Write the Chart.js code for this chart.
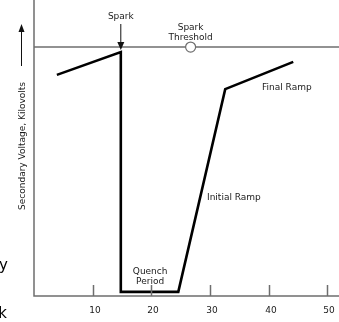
<!DOCTYPE html>
<html>
<head>
<meta charset="utf-8">
<script src="https://cdn.jsdelivr.net/npm/chart.js@4"></script>
<style>
  body { margin: 0; background: #fff; }
  canvas { display: block; }
</style>
</head>
<body>
<canvas id="sparkChart" width="339" height="322"></canvas>
<script>
// secondary voltage trace (time, kV in arbitrary 0-100 units)
traceTime = [3.9, 14.8, 14.8, 24.6, 32.6, 44.2];
traceVolts = [74.7, 82.4, 1.4, 1.4, 69.9, 79.1];

thresholdLevel = 84.1;
thresholdMarkerTime = 26.7;

xTickValues = [10, 20, 30, 40, 50];
xTickLabels = ["10", "20", "30", "40", "50"];

color = {
  Trace: "#000000",
  Axis: "#6e6e6e",
  Text: "#1a1a1a",
};

var FONT = "9px 'DejaVu Sans'";

function makePoints(xs, ys) {
  return xs.map((x, i) => ({ x: x, y: ys[i] }));
}

var annotationPlugin = {
  id: "annotations",
  afterDatasetsDraw(chart) {
    var ctx = chart.ctx;
    var xs = chart.scales.x;
    var area = chart.chartArea;
    ctx.save();

    // axes
    ctx.strokeStyle = color.Axis;
    ctx.lineWidth = 1.5;
    ctx.beginPath();
    ctx.moveTo(area.left, area.top);
    ctx.lineTo(area.left, area.bottom);
    ctx.lineTo(area.right, area.bottom);
    ctx.stroke();

    // tick marks (pointing up) + labels
    ctx.fillStyle = color.Text;
    ctx.font = FONT;
    ctx.textAlign = "center";
    ctx.textBaseline = "alphabetic";
    xTickValues.forEach((v, i) => {
      var px = Math.round(xs.getPixelForValue(v)) + 0.5;
      ctx.beginPath();
      ctx.moveTo(px, area.bottom - 11);
      ctx.lineTo(px, area.bottom);
      ctx.stroke();
      ctx.fillText(xTickLabels[i], px + 1.5, 313);
    });

    // spark arrow
    var sx = xs.getPixelForValue(traceTime[1]);
    ctx.strokeStyle = "#111";
    ctx.lineWidth = 1;
    ctx.beginPath();
    ctx.moveTo(sx, 24);
    ctx.lineTo(sx, 43);
    ctx.stroke();
    ctx.fillStyle = "#111";
    ctx.beginPath();
    ctx.moveTo(sx - 3.5, 42);
    ctx.lineTo(sx + 3.5, 42);
    ctx.lineTo(sx, 50);
    ctx.closePath();
    ctx.fill();

    ctx.fillStyle = color.Text;
    ctx.fillText("Spark", sx, 19);
    var tx = xs.getPixelForValue(thresholdMarkerTime);
    ctx.fillText("Spark", tx, 30);
    ctx.fillText("Threshold", tx, 40);
    ctx.fillText("Quench", xs.getPixelForValue(19.8), 274);
    ctx.fillText("Period", xs.getPixelForValue(19.8), 284);
    ctx.textAlign = "left";
    ctx.fillText("Final Ramp", 262, 90);
    ctx.fillText("Initial Ramp", 207, 200);

    // y axis title with arrow
    ctx.save();
    ctx.translate(24.5, 146);
    ctx.rotate(-Math.PI / 2);
    ctx.textAlign = "center";
    ctx.fillText("Secondary Voltage, Kilovolts", 0, 0);
    ctx.restore();
    ctx.strokeStyle = "#111";
    ctx.beginPath();
    ctx.moveTo(21.5, 30);
    ctx.lineTo(21.5, 66);
    ctx.stroke();
    ctx.fillStyle = "#111";
    ctx.beginPath();
    ctx.moveTo(18.5, 32);
    ctx.lineTo(24.5, 32);
    ctx.lineTo(21.5, 24);
    ctx.closePath();
    ctx.fill();

    // cut-off text at left edge
    ctx.fillStyle = "#000";
    ctx.font = "15px 'DejaVu Sans'";
    ctx.textAlign = "right";
    ctx.fillText("y", 8, 270);
    ctx.fillText("k", 7, 318);

    ctx.restore();
  },
};

new Chart(document.getElementById("sparkChart"), {
  type: "scatter",
  data: {
    datasets: [
      {
        // threshold marker, drawn on top of the threshold line
        data: [{ x: thresholdMarkerTime, y: thresholdLevel }],
        pointRadius: 5,
        pointBorderWidth: 1.2,
        pointBackgroundColor: "#fff",
        pointBorderColor: color.Axis,
      },
      {
        data: makePoints(traceTime, traceVolts),
        showLine: true,
        borderColor: color.Trace,
        borderWidth: 2.6,
        borderJoinStyle: "miter",
        pointRadius: 0,
      },
      {
        data: [
          { x: 0, y: thresholdLevel },
          { x: 52, y: thresholdLevel },
        ],
        showLine: true,
        borderColor: color.Axis,
        borderWidth: 1.4,
        pointRadius: 0,
      },
    ],
  },
  options: {
    responsive: false,
    animation: false,
    devicePixelRatio: 1,
    layout: { autoPadding: false, padding: { left: 34, top: 0, right: 0, bottom: 26 } },
    plugins: { legend: { display: false }, tooltip: { enabled: false } },
    scales: {
      x: { type: "linear", min: 0, max: 52, display: false },
      y: { type: "linear", min: 0, max: 100, display: false },
    },
  },
  plugins: [annotationPlugin],
});
</script>
</body>
</html>
